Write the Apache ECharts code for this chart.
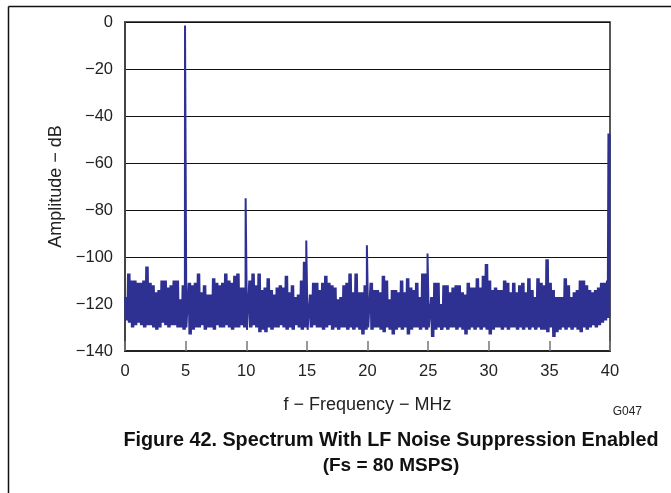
<!DOCTYPE html>
<html>
<head>
<meta charset="utf-8">
<script src="https://cdn.jsdelivr.net/npm/echarts@6/dist/echarts.min.js"></script>
<style>html,body{margin:0;padding:0;background:#fff}#c{width:671px;height:493px}</style>
</head>
<body>
<div id="c"></div>
<script>
// Noise floor read per 0.25 MHz bin (0 .. 39.75 MHz): upper and lower envelope, dB
var binStep = 0.25;
var noiseTop = [
  -117,-107,-110,-110,-111,-111,-110,-104,-111,-112,-115,-114,-110,-110,-113,-112,
  -110,-110,-118,-112,-112,-111,-112,-111,-107,-115,-112,-116,-116,-109,-111,-112,
  -111,-107,-110,-111,-108,-107,-113,-113,-112,-110,-107,-112,-107,-114,-113,-109,
  -114,-116,-113,-112,-113,-108,-115,-112,-117,-116,-110,-102,-112,-116,-111,-111,
  -114,-111,-108,-111,-112,-113,-118,-117,-112,-111,-107,-115,-107,-115,-115,-112,
  -112,-111,-114,-114,-115,-108,-110,-118,-114,-114,-115,-110,-115,-109,-113,-114,
  -111,-117,-107,-107,-112,-117,-111,-111,-120,-112,-112,-115,-113,-112,-112,-115,
  -116,-111,-113,-113,-109,-113,-108,-103,-110,-114,-113,-114,-114,-110,-111,-115,
  -111,-115,-112,-111,-115,-109,-114,-117,-109,-111,-112,-101,-111,-114,-117,-117,
  -117,-109,-112,-117,-115,-114,-110,-110,-112,-114,-115,-114,-113,-111,-111,-110
];
var noiseBottom = [
  -127,-128,-130,-129,-128,-129,-130,-129,-129,-130,-131,-130,-128,-129,-130,-129,
  -129,-130,-130,-131,-130,-133,-131,-130,-130,-129,-131,-130,-130,-131,-129,-130,
  -130,-129,-130,-131,-130,-130,-129,-130,-131,-130,-129,-130,-132,-131,-132,-130,
  -131,-130,-130,-129,-130,-131,-130,-131,-129,-130,-131,-130,-131,-130,-129,-130,
  -130,-131,-130,-129,-131,-130,-131,-130,-130,-131,-130,-131,-130,-131,-133,-131,
  -130,-131,-130,-130,-131,-132,-130,-131,-133,-131,-130,-131,-130,-133,-131,-130,
  -130,-131,-130,-131,-130,-134,-131,-130,-131,-130,-131,-130,-130,-131,-130,-131,
  -133,-131,-130,-131,-130,-131,-130,-131,-133,-131,-130,-130,-131,-130,-131,-130,
  -130,-131,-130,-131,-130,-131,-130,-131,-130,-131,-131,-132,-130,-134,-132,-131,
  -130,-131,-130,-131,-130,-131,-132,-130,-131,-130,-129,-130,-129,-128,-127,-126
];
// Harmonic spurs: frequency (MHz) and level (dB)
var spurFreq = [5, 10, 15, 20, 25, 39.92];
var spurLevel = [-1.5, -75, -93, -95, -98.5, -47.5];
// Axis ticks
var xTicks = [0, 5, 10, 15, 20, 25, 30, 35, 40];
var yTicks = [0, -20, -40, -60, -80, -100, -120, -140];

// Each bin is traced as a dense up/down sweep between its envelope values
var pts = [];
var sub = binStep / 4;
for (var i = 0; i < noiseTop.length; i++) {
  var f = i * binStep;
  var isSpur = false;
  for (var s = 0; s < spurFreq.length; s++) if (Math.abs(spurFreq[s] - f) < 0.01) isSpur = true;
  if (!isSpur) pts.push([f, noiseTop[i]]);
  pts.push([f + sub, noiseBottom[i]]);
  if (!isSpur) pts.push([f + 2 * sub, noiseTop[i]]);
  pts.push([f + 3 * sub, noiseBottom[i]]);
}
for (var s = 0; s < spurFreq.length; s++) {
  pts.push([spurFreq[s] - 0.05, spurLevel[s]]);
  pts.push([spurFreq[s] + 0.05, spurLevel[s]]);
}
pts.sort(function (a, b) { return a[0] - b[0]; });

var FONT = '"Liberation Sans", Arial, Helvetica, sans-serif';
var chart = echarts.init(document.getElementById('c'), null, {renderer: 'canvas'});
chart.setOption({
  animation: false,
  backgroundColor: '#fff',
  grid: {left: 125, top: 22, width: 485, height: 329, show: true, borderColor: '#222', borderWidth: 1.5, backgroundColor: 'transparent'},
  xAxis: {
    type: 'value', min: xTicks[0], max: xTicks[xTicks.length - 1], interval: 5,
    name: 'f \u2212 Frequency \u2212 MHz', nameLocation: 'middle', nameGap: 45,
    nameTextStyle: {fontFamily: FONT, fontSize: 18, color: '#222'},
    axisLine: {show: true, onZero: false, lineStyle: {color: '#222', width: 2}},
    axisTick: {show: true, inside: true, length: 10, lineStyle: {color: '#777', width: 1.5}},
    axisLabel: {fontFamily: FONT, fontSize: 16.5, color: '#222', margin: 12},
    splitLine: {show: false}
  },
  yAxis: {
    type: 'value', min: yTicks[yTicks.length - 1], max: yTicks[0], interval: 20,
    name: 'Amplitude \u2212 dB', nameLocation: 'middle', nameGap: 57,
    nameTextStyle: {fontFamily: FONT, fontSize: 18, color: '#222'},
    axisLine: {show: true, onZero: false, lineStyle: {color: '#444', width: 2}},
    axisTick: {show: false},
    axisLabel: {fontFamily: FONT, fontSize: 16.5, color: '#222', margin: 12,
      formatter: function (v) { return v < 0 ? '\u2212' + Math.abs(v) : String(v); }},
    splitLine: {show: true, lineStyle: {color: '#111', width: 1}}
  },
  series: [{
    type: 'line', data: pts, showSymbol: false, symbol: 'none',
    lineStyle: {color: '#2e3192', width: 2}, clip: true, z: 1
  }],
  graphic: [
    {type: 'line', shape: {x1: 8.5, y1: 6.5, x2: 671, y2: 6.5}, style: {stroke: '#111', lineWidth: 1.5}},
    {type: 'line', shape: {x1: 8.5, y1: 6.5, x2: 8.5, y2: 493}, style: {stroke: '#111', lineWidth: 1.5}},
    {type: 'text', x: 642, y: 406, style: {text: 'G047', font: '12px ' + FONT, fill: '#222', align: 'right', textAlign: 'right'}},
    {type: 'text', x: 391, y: 431, style: {text: 'Figure 42. Spectrum With LF Noise Suppression Enabled', font: 'bold 19.8px ' + FONT, fill: '#111', align: 'center', textAlign: 'center'}},
    {type: 'text', x: 391, y: 456, style: {text: '(Fs = 80 MSPS)', font: 'bold 19px ' + FONT, fill: '#111', align: 'center', textAlign: 'center'}}
  ]
});
</script>
</body>
</html>
